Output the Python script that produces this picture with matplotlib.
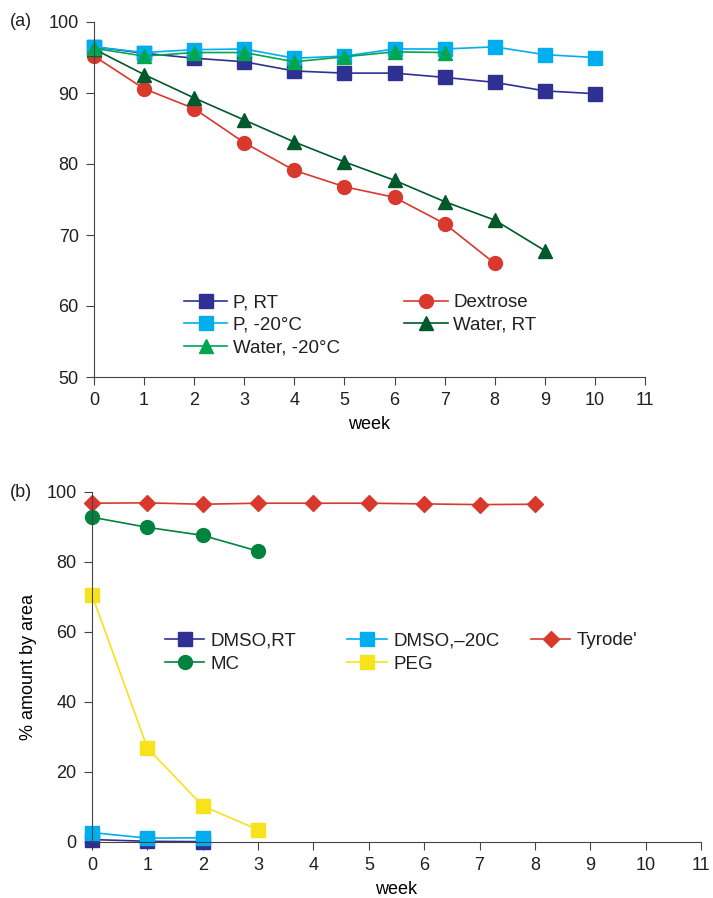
import numpy as np
import matplotlib.pyplot as plt

plt.rcParams['font.family'] = ['Liberation Sans', 'DejaVu Sans']
plt.rcParams['font.size'] = 13
plt.rcParams['text.color'] = '#231f20'

# ---- panel (a) data ----
p_rt = [96.5, 95.6, 94.9, 94.4, 93.1, 92.8, 92.8, 92.2, 91.5, 90.3, 89.9]
p_m20 = [96.5, 95.7, 96.1, 96.2, 94.9, 95.2, 96.2, 96.2, 96.5, 95.4, 95.0]
water_m20 = [96.3, 95.2, 95.7, 95.7, 94.4, 95.1, 95.8, 95.7]
dextrose = [95.2, 90.6, 87.8, 83.0, 79.1, 76.8, 75.3, 71.6, 66.0]
water_rt = [96.2, 92.6, 89.3, 86.2, 83.1, 80.3, 77.7, 74.7, 72.1, 67.8]

# ---- panel (b) data ----
tyrode = [96.8, 96.9, 96.5, 96.8, 96.8, 96.8, 96.6, 96.4, 96.5]
mc = [92.8, 89.9, 87.6, 83.1]
peg = [70.6, 26.9, 10.3, 3.5]
dmso_m20 = [2.7, 1.1, 1.2]
dmso_rt = [0.7, 0.2, 0.1]

c_dblue = '#2e3192'
c_lblue = '#00aeef'
c_green = '#00a651'
c_dgreen = '#00592b'
c_red = '#d9392c'
c_mc = '#00843d'
c_yellow = '#f7e21c'

fig = plt.figure(figsize=(7.13, 8.98), dpi=100)
W, H = 713, 898
ax1 = fig.add_axes([94 / W, 1 - 377 / H, (645 - 94) / W, (377 - 22) / H])
ax2 = fig.add_axes([92 / W, 1 - 842 / H, (701 - 92) / W, (842 - 492) / H])

def series(ax, y, color, marker, label, size=10):
    x = np.arange(len(y))
    ln, = ax.plot(x, y, color=color, marker=marker, markersize=size, lw=1.2,
                  label=label, clip_on=False)
    return ln

h_prt = series(ax1, p_rt, c_dblue, 's', 'P, RT')
h_pm20 = series(ax1, p_m20, c_lblue, 's', 'P, -20°C')
h_dex = series(ax1, dextrose, c_red, 'o', 'Dextrose')
h_wrt = series(ax1, water_rt, c_dgreen, '^', 'Water, RT')
h_wm20 = series(ax1, water_m20, c_green, '^', 'Water, -20°C')

ax1.set_xlim(0, 11)
ax1.set_ylim(50, 100)
ax1.set_xticks(range(0, 12))
ax1.set_yticks(range(50, 101, 10))
ax1.set_xlabel('week', labelpad=5)
ax1.legend(handles=[h_prt, h_pm20, h_wm20, h_dex, h_wrt], ncol=2, frameon=False,
           loc='upper left', bbox_to_anchor=(184 / W, 1 - 294 / H),
           bbox_transform=fig.transFigure, borderpad=0, borderaxespad=0,
           fontsize=13.5, handlelength=2.3, labelspacing=0.3,
           columnspacing=3.45, handletextpad=0.3)

h_drt = series(ax2, dmso_rt, c_dblue, 's', 'DMSO,RT')
h_dm20 = series(ax2, dmso_m20, c_lblue, 's', 'DMSO,\u201320C')
h_ty = series(ax2, tyrode, c_red, 'D', "Tyrode'", size=8)
h_mc = series(ax2, mc, c_mc, 'o', 'MC')
h_peg = series(ax2, peg, c_yellow, 's', 'PEG')

ax2.set_xlim(0, 11)
ax2.set_ylim(0, 100)
ax2.set_xticks(range(0, 12))
ax2.set_yticks(range(0, 101, 20))
ax2.set_xlabel('week', labelpad=5)
ax2.set_ylabel('% amount by area', labelpad=7)
leg_opts = dict(frameon=False, loc='upper left', bbox_transform=fig.transFigure,
                borderpad=0, borderaxespad=0, fontsize=13.5, handlelength=2.1,
                labelspacing=0.35, handletextpad=0.35)
leg_b = ax2.legend(handles=[h_drt, h_mc, h_dm20, h_peg], ncol=2,
                   bbox_to_anchor=(165 / W, 1 - 632 / H), columnspacing=2.7,
                   **leg_opts)
ax2.add_artist(leg_b)
ax2.legend(handles=[h_ty], bbox_to_anchor=(531 / W, 1 - 632 / H), **leg_opts)

for ax in (ax1, ax2):
    ax.spines['top'].set_visible(False)
    ax.spines['right'].set_visible(False)
    ax.spines['left'].set_color('#444444')
    ax.spines['bottom'].set_color('#444444')
    ax.tick_params(direction='out', length=6, color='#444444',
                   labelcolor='#231f20', pad=5)

fig.text(10 / W, 1 - 22 / H, '(a)', va='center')
fig.text(10 / W, 1 - 492 / H, '(b)', va='center')

fig.savefig('out.png', dpi=100)
